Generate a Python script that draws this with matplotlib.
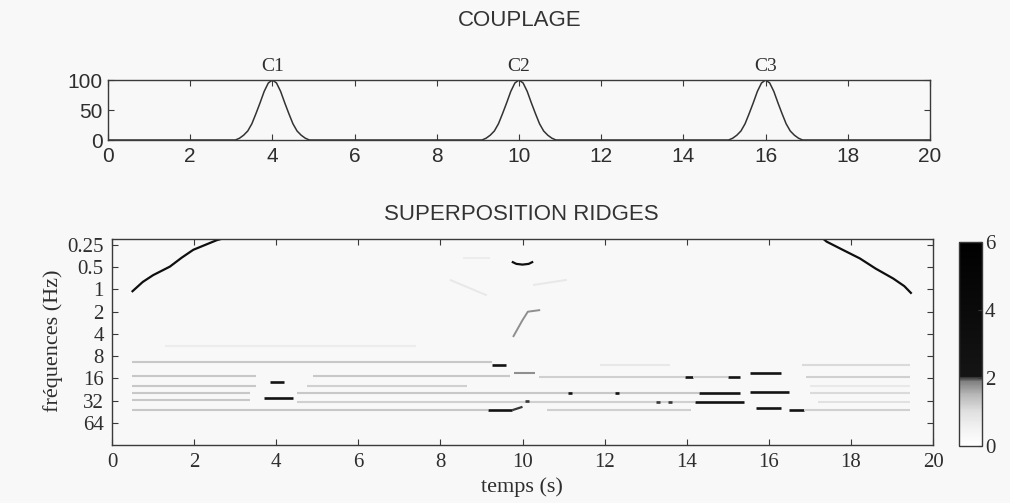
import matplotlib
matplotlib.use('Agg')
import matplotlib.pyplot as plt
from matplotlib.colors import LinearSegmentedColormap, Normalize
from matplotlib.cm import ScalarMappable
from matplotlib.ticker import NullLocator

# ---------------- data ----------------
# coupling curve (top panel)
coupling_t = [0.0, 3.1, 3.2, 3.3, 3.4, 3.5, 3.6, 3.7, 3.8, 3.9, 4.0, 4.1, 4.2, 4.3, 4.4, 4.5, 4.6, 4.7, 4.8, 4.9,
              9.1, 9.2, 9.3, 9.4, 9.5, 9.6, 9.7, 9.8, 9.9, 10.0, 10.1, 10.2, 10.3, 10.4, 10.5, 10.6, 10.7, 10.8, 10.9,
              15.1, 15.2, 15.3, 15.4, 15.5, 15.6, 15.7, 15.8, 15.9, 16.0, 16.1, 16.2, 16.3, 16.4, 16.5, 16.6, 16.7, 16.8, 16.9,
              20.0]
coupling_val = [0, 0, 3, 8, 15, 27, 44, 62, 81, 95, 100, 95, 81, 62, 44, 27, 15, 8, 3, 0,
                0, 3, 8, 15, 27, 44, 62, 81, 95, 100, 95, 81, 62, 44, 27, 15, 8, 3, 0,
                0, 3, 8, 15, 27, 44, 62, 81, 95, 100, 95, 81, 62, 44, 27, 15, 8, 3, 0,
                0]
peak_times = [4, 10, 16]
peak_labels = ['C1', 'C2', 'C3']
peak_label_level = 122

# horizontal ridge segments (bottom panel): start time, end time, frequency (Hz), value
ridge_t0 = [0.48, 9.25, 0.48, 3.85, 0.48, 0.48, 0.48, 3.7, 0.48, 1.3,
            4.9, 4.75, 4.5, 4.5, 9.8, 10.4, 13.95, 14.15, 15.0, 15.55,
            16.9, 14.3, 15.55, 17.0, 14.2, 15.7, 16.5, 16.85, 17.2, 16.8,
            17.0, 10.6, 11.9, 9.15, 11.1, 12.25, 13.25, 13.55, 10.05]
ridge_t1 = [9.25, 9.6, 3.5, 4.2, 3.5, 3.35, 3.35, 4.4, 9.15, 7.4,
            9.7, 8.65, 14.3, 14.2, 10.3, 13.95, 14.15, 15.0, 15.3, 16.3,
            19.45, 15.3, 16.5, 19.45, 15.4, 16.3, 16.85, 19.45, 19.45, 19.45,
            19.45, 14.1, 13.6, 9.75, 11.2, 12.35, 13.35, 13.65, 10.15]
ridge_f = [9.7, 10.5, 14.8, 17.8, 20.2, 24.9, 31.6, 29.5, 43.2, 5.9,
           14.8, 20.2, 25.3, 33.0, 13.7, 15.5, 15.5, 15.5, 15.5, 13.7,
           15.5, 25.3, 24.3, 25.3, 33.0, 40.5, 43.2, 43.2, 33.0, 10.6,
           20.2, 43.2, 10.6, 43.2, 25.3, 25.3, 33.0, 33.0, 32.0]
ridge_val = [1.3, 2.3, 1.3, 2.1, 1.3, 1.3, 1.3, 2.6, 1.3, 0.7,
             1.3, 1.2, 1.3, 1.2, 1.8, 1.2, 2.1, 1.2, 2.1, 2.3,
             1.2, 2.4, 2.4, 1.1, 2.5, 2.3, 2.3, 1.2, 1.0, 1.1,
             0.8, 1.2, 0.8, 2.4, 2.1, 2.1, 2.0, 2.0, 2.0]

# curved ridges
curve_left_t = [0.48, 0.75, 1.0, 1.41, 1.7, 1.98, 2.3, 2.55, 2.75]
curve_left_f = [1.08, 0.79, 0.64, 0.49, 0.37, 0.29, 0.245, 0.215, 0.2]
curve_right_t = [17.3, 17.41, 17.8, 18.22, 18.6, 19.03, 19.3, 19.48]
curve_right_f = [0.2, 0.225, 0.29, 0.38, 0.52, 0.71, 0.9, 1.14]
arc10_t = [9.74, 9.85, 10.0, 10.15, 10.26]
arc10_f = [0.42, 0.45, 0.46, 0.45, 0.42]
rise10_t = [9.77, 10.0, 10.13, 10.43]
rise10_f = [4.4, 2.6, 2.0, 1.9]
diag_a_t = [8.23, 9.13]
diag_a_f = [0.74, 1.2]
diag_b_t = [10.26, 11.08]
diag_b_f = [0.87, 0.74]
faint_top_t = [8.55, 9.2]
faint_top_f = [0.375, 0.375]
fork43_t = [9.75, 10.0]
fork43_f = [43.2, 38.9]
curve_vals = [3.0, 3.0, 3.0, 1.8, 0.8, 0.8, 0.7, 2.0]

freq_ticks = [0.25, 0.5, 1, 2, 4, 8, 16, 32, 64]
freq_labels = ['0.25', '0.5', '1', '2', '4', '8', '16', '32', '64']
time_ticks = [0, 2, 4, 6, 8, 10, 12, 14, 16, 18, 20]
cbar_ticks = [0, 2, 4, 6]

# ---------------- style ----------------
W, H = 1010, 503
bg = '#f8f8f8'
ink = '#2e2e2e'
SANS = ['Liberation Sans', 'DejaVu Sans']
SERIF = ['Liberation Serif', 'DejaVu Serif']
plt.rcParams['font.family'] = SANS
plt.rcParams['axes.edgecolor'] = '#3a3a3a'
plt.rcParams['xtick.color'] = '#3a3a3a'
plt.rcParams['ytick.color'] = '#3a3a3a'
plt.rcParams['text.color'] = ink

cmap = LinearSegmentedColormap.from_list('ridge', [
    (0.0, (1.0, 1.0, 1.0)),
    (0.5 / 6, (0.95, 0.95, 0.95)),
    (1.0 / 6, (0.88, 0.88, 0.88)),
    (1.5 / 6, (0.72, 0.72, 0.72)),
    (1.9 / 6, (0.50, 0.50, 0.50)),
    (2.05 / 6, (0.08, 0.08, 0.08)),
    (1.0, (0.0, 0.0, 0.0)),
])
norm = Normalize(0, 6)

fig = plt.figure(figsize=(W / 100, H / 100), dpi=100)
fig.patch.set_facecolor(bg)

# ---------------- top panel ----------------
ax1 = fig.add_axes([108 / W, 1 - 140 / H, 822 / W, 60 / H])
ax1.set_facecolor(bg)
ax1.plot(coupling_t, coupling_val, color='#333333', lw=1.1)
ax1.set_xlim(0, 20)
ax1.set_ylim(0, 100)
ax1.set_xticks(time_ticks)
ax1.set_yticks([0, 50, 100])
ax1.tick_params(direction='in', top=True, right=True, length=4, width=0.8,
                labelsize=15, labelcolor=ink)
ax1.tick_params(axis='x', pad=5)
ax1.tick_params(axis='y', pad=4)
for sp in ax1.spines.values():
    sp.set_linewidth(1.0)
for t, lab in zip(peak_times, peak_labels):
    ax1.text(t, peak_label_level, lab, ha='center', va='center', fontsize=14,
             family=SERIF, color=ink, clip_on=False)

fig.text(520 / W, 1 - 20 / H, 'COUPLAGE', ha='center', va='center', fontsize=16, color='#333333')

# ---------------- bottom panel ----------------
ax2 = fig.add_axes([112 / W, 1 - 445 / H, 821 / W, 206 / H])
ax2.set_facecolor(bg)
ax2.set_yscale('log', base=2)
ax2.set_xlim(0, 20)
ax2.set_ylim(128, 0.207)

for t0, t1, f, v in zip(ridge_t0, ridge_t1, ridge_f, ridge_val):
    ax2.plot([t0, t1], [f, f], color=cmap(norm(v)), lw=1.5 if v < 2 else 1.9,
             solid_capstyle='butt')

curves = [(curve_left_t, curve_left_f), (curve_right_t, curve_right_f),
          (arc10_t, arc10_f), (rise10_t, rise10_f), (diag_a_t, diag_a_f),
          (diag_b_t, diag_b_f), (faint_top_t, faint_top_f), (fork43_t, fork43_f)]
for (ct, cf), v in zip(curves, curve_vals):
    ax2.plot(ct, cf, color=cmap(norm(v)), lw=1.4 if v < 2 else 1.6,
             solid_capstyle='butt')

ax2.set_yticks(freq_ticks)
ax2.set_yticklabels(freq_labels, family=SERIF)
ax2.yaxis.set_minor_locator(NullLocator())
ax2.set_xticks(time_ticks)
ax2.set_xticklabels([str(t) for t in time_ticks], family=SERIF)
ax2.tick_params(direction='in', top=True, right=True, length=4, width=0.8,
                labelsize=15, labelcolor=ink)
ax2.tick_params(axis='x', pad=6)
ax2.tick_params(axis='y', pad=6)
for sp in ax2.spines.values():
    sp.set_linewidth(1.0)

fig.text(521 / W, 1 - 215 / H, 'SUPERPOSITION RIDGES', ha='center', va='center',
         fontsize=16, color='#333333')
fig.text(522 / W, 1 - 487 / H, 'temps (s)', ha='center', va='center', fontsize=16,
         family=SERIF, color=ink)
fig.text(53 / W, 1 - 341 / H, 'fréquences (Hz)', ha='center', va='center', fontsize=16,
         family=SERIF, color=ink, rotation=90)

# ---------------- colorbar ----------------
cax = fig.add_axes([959 / W, 1 - 446 / H, 23 / W, 204 / H])
cb = fig.colorbar(ScalarMappable(norm=norm, cmap=cmap), cax=cax, ticks=cbar_ticks)
cb.outline.set_linewidth(1.0)
cb.outline.set_edgecolor('#3a3a3a')
cax.tick_params(length=3, width=0.8, labelsize=15, pad=2, labelcolor=ink, direction='in')
cax.set_yticklabels([str(t) for t in cbar_ticks], family=SERIF)

fig.savefig('out.png', dpi=100, facecolor=bg)
